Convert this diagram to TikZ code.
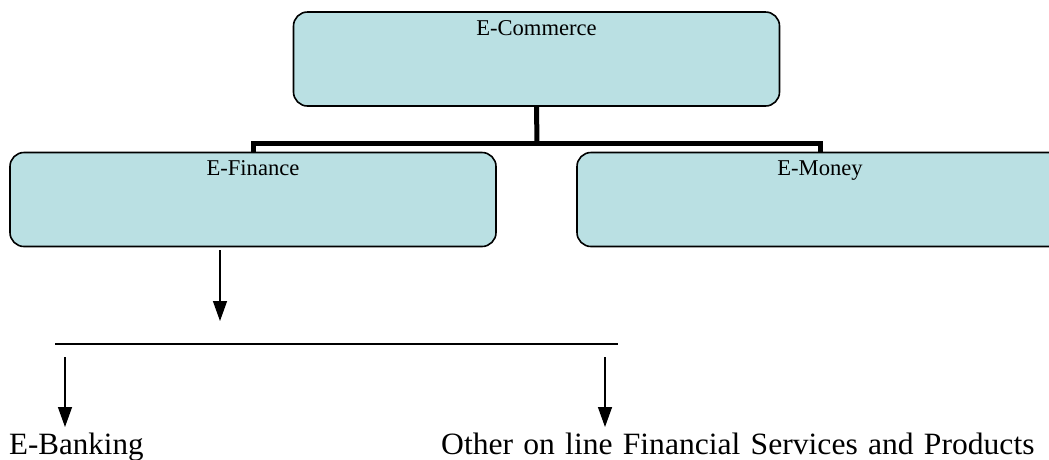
\documentclass[tikz,border=0pt]{standalone}
\usepackage{fontspec}
\setmainfont{Liberation Serif}
\usetikzlibrary{arrows.meta}
\definecolor{boxfill}{RGB}{186,224,227}
\tikzset{
  box/.style={draw=black, line width=1.6pt, fill=boxfill, rounded corners=14pt, minimum width=486pt, minimum height=94pt, inner sep=0pt},
  lbl/.style={anchor=north, inner sep=0pt, font=\fontsize{22.6}{26}\selectfont},
  bigtxt/.style={anchor=base west, inner sep=0pt, font=\fontsize{31}{34}\selectfont},
  conn/.style={line width=5pt},
  arr/.style={line width=1.4pt, -{Triangle[width=14pt,length=20pt]}},
  bar/.style={line width=1.8pt}
}
\begin{document}
\begin{tikzpicture}[x=1pt,y=-1pt]
\useasboundingbox (0,0) rectangle (1049,459);
\clip (0,0) rectangle (1049,459);
\node[box] (ec) at (536.5,59) {};
\node[lbl] (ect) at ([yshift=-9pt]ec.north) {E-Commerce};
\node[box] (ef) at (253,199.5) {};
\node[lbl] (eft) at ([yshift=-9pt]ef.north) {E-Finance};
\node[box] (em) at (820,199.5) {};
\node[lbl] (emt) at ([yshift=-9pt]em.north) {E-Money};
\coordinate (j) at (537,143);
\draw[conn] (ec.south) -- (j);
\draw[conn] (ef.north) |- (j) -| (em.north);
\coordinate (a1) at (220,250);
\coordinate (a2) at (220,321);
\draw[arr] (a1) -- (a2);
\coordinate (h1) at (55,344);
\coordinate (h2) at (618,344);
\draw[bar] (h1) -- (h2);
\node[bigtxt] (eb) at (9,454) {E-Banking};
\node[bigtxt, xscale=1.02] (ot) at (441,454) {\spaceskip=10pt plus 0pt Other on line Financial Services and Products};
\coordinate (b1) at (65,357);
\coordinate (b2) at (65,427);
\coordinate (c1) at (605,357);
\coordinate (c2) at (605,427);
\draw[arr] (b1) -- (b2);
\draw[arr] (c1) -- (c2);
\end{tikzpicture}
\end{document}
